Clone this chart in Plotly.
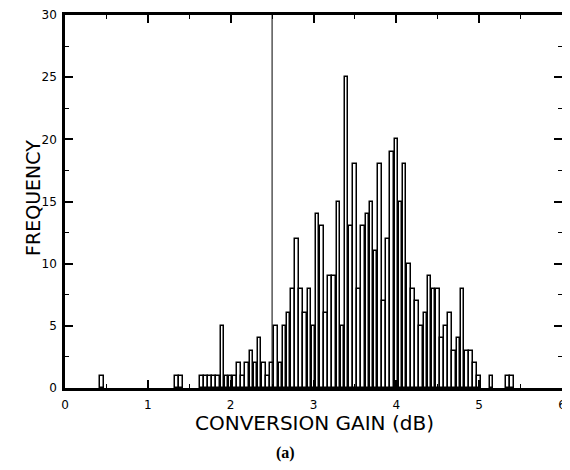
import plotly.graph_objects as go

# Histogram bin centres (dB) and frequencies
gain_db = [0.45, 1.35, 1.40, 1.65, 1.70, 1.75, 1.80, 1.85, 1.90, 1.95,
           2.00, 2.05, 2.10, 2.15, 2.20, 2.25, 2.30, 2.35, 2.40, 2.45,
           2.50, 2.55, 2.60, 2.65, 2.70, 2.75, 2.80, 2.85, 2.90, 2.95,
           3.00, 3.05, 3.10, 3.15, 3.20, 3.25, 3.30, 3.35, 3.40, 3.45,
           3.50, 3.55, 3.60, 3.65, 3.70, 3.75, 3.80, 3.85, 3.90, 3.95,
           4.00, 4.05, 4.10, 4.15, 4.20, 4.25, 4.30, 4.35, 4.40, 4.45,
           4.50, 4.55, 4.60, 4.65, 4.70, 4.75, 4.80, 4.85, 4.90, 4.95,
           5.00, 5.15, 5.35, 5.40]
frequency = [1, 1, 1, 1, 1, 1, 1, 1, 5, 1,
             1, 1, 2, 1, 2, 3, 2, 4, 2, 1,
             2, 5, 2, 5, 6, 8, 12, 8, 6, 8,
             5, 14, 13, 6, 9, 9, 15, 5, 25, 13,
             18, 8, 13, 14, 15, 11, 18, 7, 12, 19,
             20, 15, 18, 10, 8, 7, 5, 6, 9, 8,
             8, 4, 5, 6, 3, 4, 8, 3, 3, 2,
             1, 1, 1, 1]
bin_width = 0.05
threshold_db = 2.5
x_ticks = [0, 1, 2, 3, 4, 5, 6]
y_ticks = [0, 5, 10, 15, 20, 25, 30]

fig = go.Figure()
fig.add_trace(go.Bar(
    x=gain_db, y=frequency, width=bin_width * 0.88,
    marker=dict(color="white", line=dict(color="black", width=1.5)),
    showlegend=False,
))
fig.add_vline(x=threshold_db, line=dict(color="black", width=1))

tickfont = dict(family="DejaVu Sans", size=12, color="black")
fig.update_layout(
    width=562, height=454,
    margin=dict(l=57, r=8, t=7, b=74),
    paper_bgcolor="white", plot_bgcolor="white",
    bargap=0,
    xaxis=dict(range=[0, 6], tickvals=x_ticks, ticks="inside", ticklen=8,
               tickwidth=1.5, tickcolor="black", automargin=False,
               ticklabeloverflow="allow",
               minor=dict(dtick=0.5, ticks="inside", ticklen=4, tickwidth=1.2, tickcolor="black"),
               showline=True, linewidth=2.5, linecolor="black", mirror="allticks",
               showgrid=False, zeroline=False, tickfont=tickfont, ticklabelstandoff=4),
    yaxis=dict(range=[0, 30], tickvals=y_ticks, ticks="inside", ticklen=8,
               tickwidth=1.5, tickcolor="black", automargin=False,
               ticklabeloverflow="allow",
               minor=dict(dtick=2.5, ticks="inside", ticklen=4, tickwidth=1.2, tickcolor="black"),
               showline=True, linewidth=2.5, linecolor="black", mirror="allticks",
               showgrid=False, zeroline=False, tickfont=tickfont, ticklabelstandoff=3),
    annotations=[
        dict(text="CONVERSION GAIN (dB)", xref="paper", yref="paper", x=0.503, y=-0.095,
             xanchor="center", yanchor="middle", showarrow=False,
             font=dict(family="DejaVu Sans", size=20, color="black")),
        dict(text="FREQUENCY", xref="paper", yref="paper", x=-0.064, y=0.51,
             xanchor="center", yanchor="middle", showarrow=False, textangle=-90,
             font=dict(family="DejaVu Sans", size=19, color="black")),
        dict(text="<b>(a)</b>", xref="paper", yref="paper", x=0.443, y=-0.175,
             xanchor="center", yanchor="middle", showarrow=False,
             font=dict(family="Liberation Serif", size=16, color="black")),
    ],
)

fig.write_html("out.html")
